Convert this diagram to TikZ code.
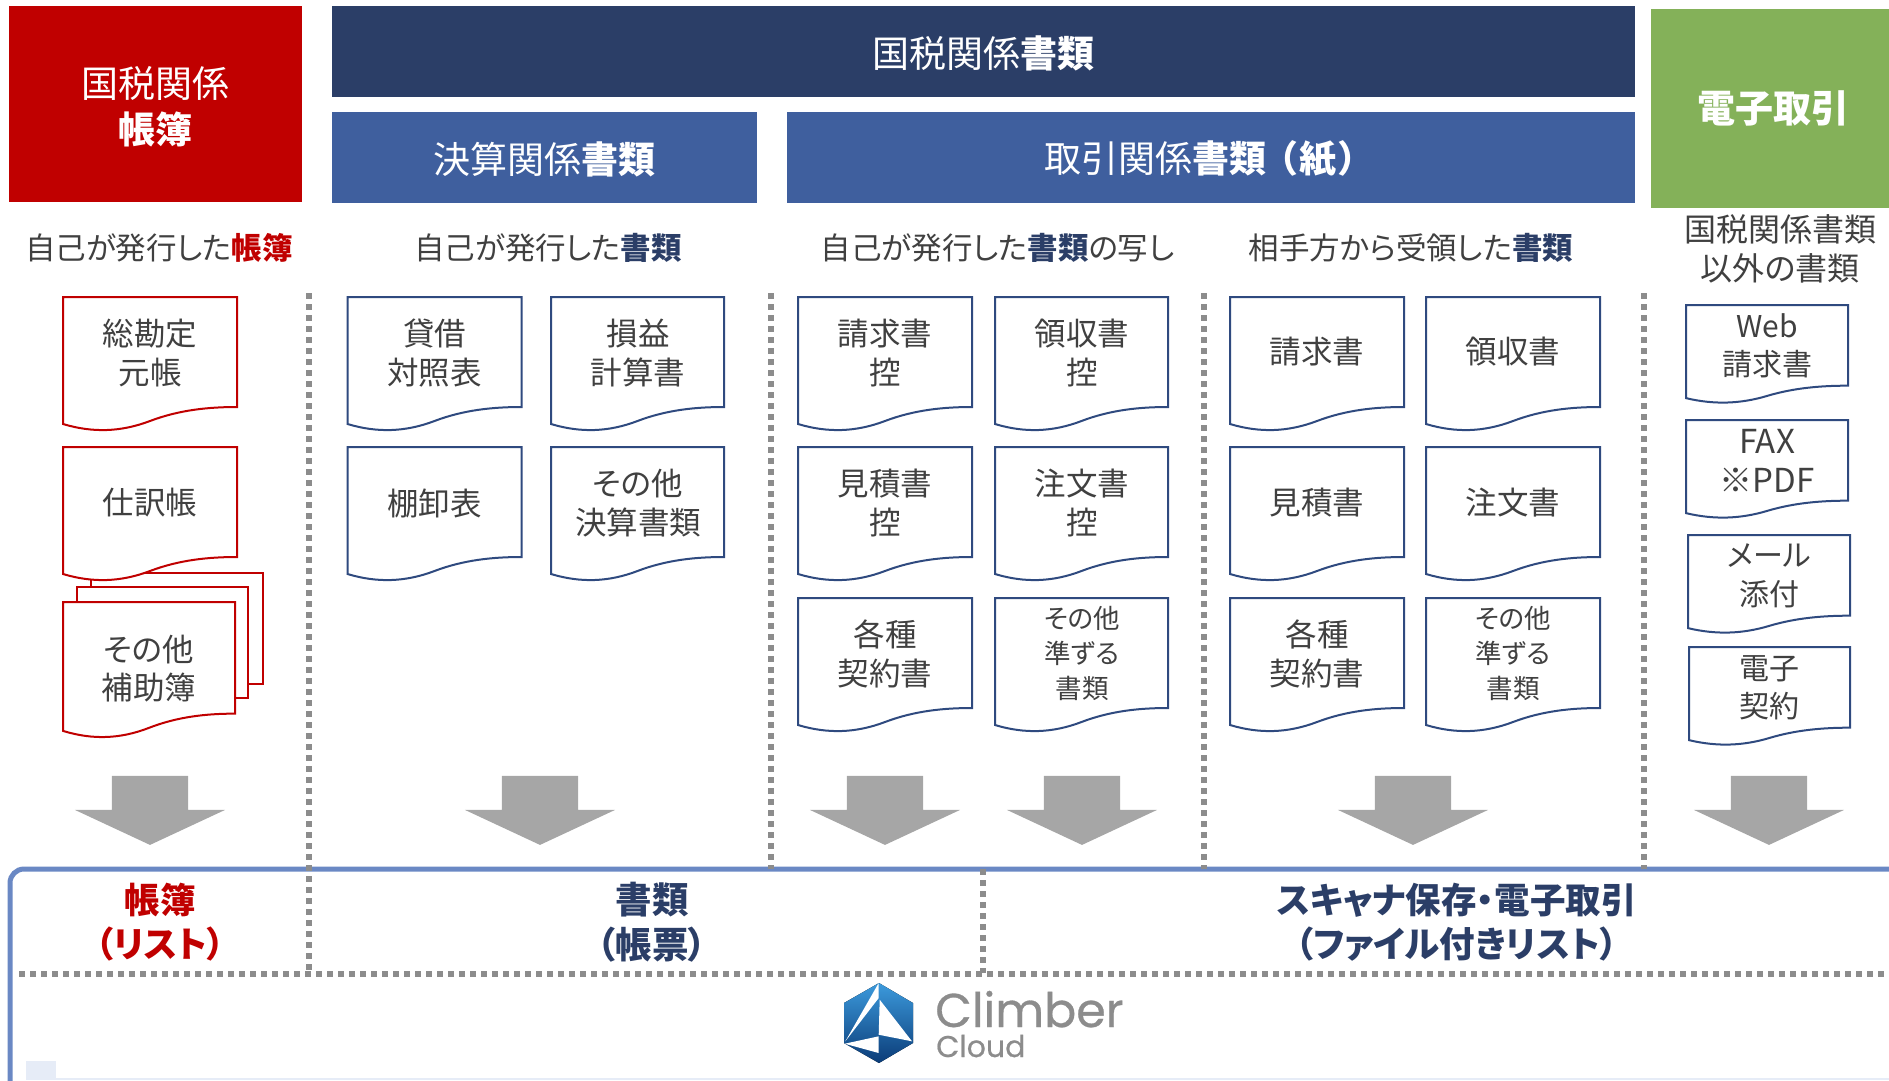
\documentclass[tikz,border=0pt]{standalone}
\usepackage{fontspec}
\setmainfont[RawFeature=+palt]{Noto Sans CJK JP}
\newfontfamily\logofont[FakeBold=0.6]{Poppins}
\usetikzlibrary{shapes.arrows}
\definecolor{taxred}{HTML}{C00000}
\definecolor{taxnavy}{HTML}{2B3E67}
\definecolor{taxblue}{HTML}{3F5F9E}
\definecolor{taxgreen}{HTML}{84B159}
\definecolor{taxtext}{HTML}{404040}
\definecolor{docnavy}{HTML}{2F4A7F}
\definecolor{framecol}{HTML}{6A88C4}
\definecolor{dotcol}{HTML}{8C8C8C}
\definecolor{paleblue}{HTML}{E6ECF7}
\definecolor{logotop}{HTML}{3C9ADC}
\definecolor{logoend}{HTML}{0B3C78}
\tikzset{
  headbox/.style={rectangle, inner sep=0pt, text=white, align=center, font=\fontsize{37}{46}\selectfont},
  subhead/.style={text=taxtext, align=center, inner sep=0pt, font=\fontsize{30.5}{38}\selectfont},
  doctext/.style={text=taxtext, align=center, inner sep=0pt, font=\fontsize{31.5}{38.5}\selectfont},
  smalldoc/.style={text=taxtext, align=center, inner sep=0pt, font=\fontsize{26.5}{35}\selectfont},
  webdoc/.style={text=taxtext, align=center, inner sep=0pt, font=\fontsize{30}{38.5}\selectfont},
  bottomlabel/.style={align=center, inner sep=0pt, font=\bfseries\fontsize{36.5}{44.5}\selectfont},
  scanlabel/.style={bottomlabel, font=\bfseries\fontsize{35.5}{44.5}\selectfont},
  downarrow/.style={single arrow, shape border rotate=270, fill=black!35, draw=none, inner sep=0pt, outer sep=0pt,
    text width=76pt, minimum height=69pt, single arrow head extend=37pt, single arrow tip angle=130},
  dotline/.style={dotcol, line width=6pt, dash pattern=on 6pt off 5pt},
  pageline/.style={line width=2pt, fill=white}
}
% one sheet with a wavy lower edge: x, y, width, height, colour
\newcommand{\docpage}[5]{
  \begin{scope}[shift={(#1,#2)}, xscale=#3/174, yscale=#4/135]
    \draw[pageline, draw=#5] (0,0) -- (174,0) -- (174,110) .. controls (145,110) and (116,113) .. (87,124)
      .. controls (58,135) and (30,136) .. (0,127) -- cycle;
  \end{scope}
}
% header text set a little lower in its box
\newcommand{\lowered}[2]{\raisebox{-#1pt}[\height][\depth]{#2}}
\begin{document}
\begin{tikzpicture}[x=1pt, y=-1pt]
\useasboundingbox (0,0) rectangle (1889,1080);
\clip (0,0) rectangle (1889,1080);
%============ frame at the bottom
\draw[framecol, line width=5pt, rounded corners=14pt] (10,869) rectangle (1930,1100);
\fill[paleblue] (26,1061) rectangle (56,1080);
\fill[paleblue] (40,1078) rectangle (1889,1080);
%============ headers
\node[headbox, fill=taxred, minimum width=293pt, minimum height=196pt] (ledgerhead) at (155.5,104) {\lowered{2.5}{国税関係}\\\lowered{2.5}{\textbf{帳簿}}};
\node[headbox, fill=taxnavy, minimum width=1303pt, minimum height=91pt] (taxhead) at (983.5,51.5) {\lowered{1.5}{国税関係\textbf{書類}}};
\node[headbox, fill=taxblue, minimum width=425pt, minimum height=91pt] (closinghead) at (544.5,157.5) {\lowered{1.5}{決算関係\textbf{書類}}};
\node[headbox, fill=taxblue, minimum width=848pt, minimum height=91pt] (tradehead) at (1211,157.5) {\lowered{1.5}{\hspace{-16pt}取引関係\textbf{書類\hspace{12pt}（\hspace{3pt}紙\hspace{3pt}）\hspace{4pt}}}};
\node[headbox, fill=taxgreen, minimum width=244pt, minimum height=199pt] (edihead) at (1773,108.5) {\textbf{\fontsize{38}{46}\selectfont 電子取引}};
%============ column titles
\node[subhead] (ledgertitle) at (159,248) {自己が発行した\textcolor{taxred}{\textbf{帳簿}}};
\node[subhead] (closingtitle) at (548,248) {自己が発行した\textcolor{taxnavy}{\textbf{書類}}};
\node[subhead] (copytitle) at (997.5,248) {自己が発行した\textcolor{taxnavy}{\textbf{書類}}の写し};
\node[subhead] (receivedtitle) at (1411,248) {相手方から受領した\textcolor{taxnavy}{\textbf{書類}}};
\node[subhead, font=\fontsize{32}{38.5}\selectfont] (othertitle) at (1780,249) {国税関係書類\\以外の書類};
%============ dotted separators
\coordinate (sepAtop) at (309,293);
\coordinate (sepAend) at (309,973);
\coordinate (sepBtop) at (771,293);
\coordinate (sepBend) at (771,869);
\coordinate (sepCtop) at (1204,293);
\coordinate (sepCend) at (1204,869);
\coordinate (sepDtop) at (1644,293);
\coordinate (sepDend) at (1644,869);
\coordinate (sepEtop) at (983,869);
\coordinate (sepEend) at (983,973);
\coordinate (rowleft) at (19,974);
\coordinate (rowright) at (1889,974);
\draw[dotline] (sepAtop) -- (sepAend);
\draw[dotline] (sepBtop) -- (sepBend);
\draw[dotline] (sepCtop) -- (sepCend);
\draw[dotline] (sepDtop) -- (sepDend);
\draw[dotline] (sepEtop) -- (sepEend);
\draw[dotline] (rowleft) -- (rowright);
%============ ledgers
\draw[pageline, draw=taxred] (91,573) rectangle (263,684);
\draw[pageline, draw=taxred] (77,587) rectangle (248,698);
\docpage{63}{602}{172}{137}{taxred}
\docpage{63}{297}{174}{135}{taxred}
\docpage{63}{447}{174}{135}{taxred}
\node[doctext] (generalledger) at (150,353) {総勘定\\元帳};
\node[doctext] (journal) at (150,503) {仕訳帳};
\node[doctext] (subledger) at (149,668.5) {その他\\補助簿};
%============ closing documents
\docpage{347.5}{297}{174}{135}{docnavy}
\docpage{551}{297}{173}{135}{docnavy}
\docpage{347.5}{447}{174}{135}{docnavy}
\docpage{551}{447}{173}{135}{docnavy}
\node[doctext] (balance) at (434.5,353) {貸借\\対照表};
\node[doctext] (income) at (638,353) {損益\\計算書};
\node[doctext] (inventory) at (434.5,503) {棚卸表};
\node[doctext] (otherclosing) at (638,503) {その他\\決算書類};
%============ issued copies
\docpage{798}{297}{174}{135}{docnavy}
\docpage{995}{297}{173}{135}{docnavy}
\docpage{798}{447}{174}{135}{docnavy}
\docpage{995}{447}{173}{135}{docnavy}
\docpage{798}{598}{174}{135}{docnavy}
\docpage{995}{598}{173}{135}{docnavy}
\node[doctext] (invoicecopy) at (885,353) {請求書\\控};
\node[doctext] (receiptcopy) at (1082,353) {領収書\\控};
\node[doctext] (quotecopy) at (885,503) {見積書\\控};
\node[doctext] (ordercopy) at (1082,503) {注文書\\控};
\node[doctext] (contractcopy) at (885,654) {各種\\契約書};
\node[smalldoc] (othercopy) at (1082,653) {その他\\準ずる\\書類};
%============ received documents
\docpage{1230}{297}{174}{135}{docnavy}
\docpage{1426}{297}{174}{135}{docnavy}
\docpage{1230}{447}{174}{135}{docnavy}
\docpage{1426}{447}{174}{135}{docnavy}
\docpage{1230}{598}{174}{135}{docnavy}
\docpage{1426}{598}{174}{135}{docnavy}
\node[doctext] (invoice) at (1317,352) {請求書};
\node[doctext] (receipt) at (1513,352) {領収書};
\node[doctext] (quote) at (1317,503) {見積書};
\node[doctext] (order) at (1513,503) {注文書};
\node[doctext] (contract) at (1317,654) {各種\\契約書};
\node[smalldoc] (otherreceived) at (1513,653) {その他\\準ずる\\書類};
%============ electronic documents
\docpage{1686}{305}{162}{99}{docnavy}
\docpage{1686}{420}{162}{99}{docnavy}
\docpage{1688}{535}{162}{99}{docnavy}
\docpage{1689}{647}{161}{99}{docnavy}
\node[webdoc] (webinvoice) at (1767,346) {Web\\請求書};
\node[webdoc, font=\fontsize{33}{38.5}\selectfont] (fax) at (1767,461) {FAX\\※PDF};
\node[webdoc] (mail) at (1769,576) {メール\\添付};
\node[webdoc] (econtract) at (1769,688) {電子\\契約};
%============ arrows
\node[downarrow] (arrowA) at (150,801.5) {};
\node[downarrow] (arrowB) at (540,801.5) {};
\node[downarrow] (arrowC) at (885,801.5) {};
\node[downarrow] (arrowD) at (1082,801.5) {};
\node[downarrow] (arrowE) at (1413,801.5) {};
\node[downarrow] (arrowF) at (1769,801.5) {};
%============ bottom labels
\node[scanlabel, text=taxred] (ledgerlist) at (160,922) {帳簿\\（リスト）};
\node[bottomlabel, text=taxnavy] (forms) at (652,922) {書類\\（帳票）};
\node[scanlabel, text=taxnavy] (scanlist) at (1456.5,922) {スキャナ保存・電子取引\\（ファイル付きリスト）};
%============ logo
\begin{scope}
\path[clip] (879,983) -- (913,1003) -- (913,1043) -- (879,1063) -- (844,1043) -- (844,1003) -- cycle;
\fill[top color=logotop, bottom color=logoend] (840,983) rectangle (917,1063);
\fill[white] (878.7,983) -- (845.3,1041.3) -- (878.7,998) -- cycle;
\fill[white] (879.7,999.7) -- (912,1041.3) -- (878.7,1034.7) -- cycle;
\fill[white] (844.7,1043.7) -- (878.7,1036.3) -- (878.7,1053) -- cycle;
\end{scope}
\node[anchor=base west, inner sep=0pt, text=dotcol, font=\logofont\fontsize{47.5}{47}\selectfont] (climber) at (935,1027) {Climber};
\node[anchor=base west, inner sep=0pt, text=dotcol, font=\logofont\fontsize{30}{30}\selectfont] (cloud) at (936,1057) {Cloud};
\end{tikzpicture}
\end{document}
